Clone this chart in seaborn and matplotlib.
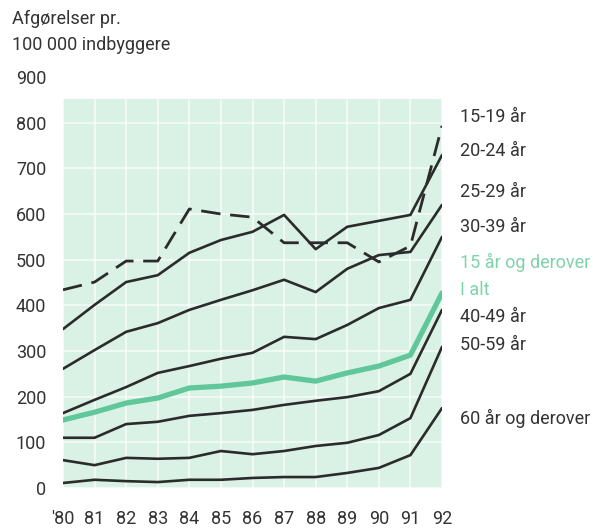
"""
Afgørelser pr. 100 000 indbyggere, by age group, 1980-1992
"""
import matplotlib.pyplot as plt
import seaborn as sns

years = list(range(80, 93))
year_labels = ["'80", "81", "82", "83", "84", "85", "86", "87", "88", "89", "90", "91", "92"]

age_15_19 = [434, 451, 497, 497, 611, 600, 593, 537, 537, 537, 495, 530, 793]
age_20_24 = [348, 401, 451, 466, 515, 543, 561, 598, 523, 572, 585, 598, 729]
age_25_29 = [261, 302, 342, 361, 390, 412, 433, 456, 429, 480, 510, 517, 620]
age_30_39 = [164, 193, 221, 252, 267, 283, 296, 331, 326, 357, 394, 412, 550]
total_15_plus = [149, 166, 186, 197, 219, 223, 230, 243, 234, 252, 267, 291, 427]
age_40_49 = [110, 110, 140, 145, 158, 164, 171, 182, 191, 199, 212, 250, 390]
age_50_59 = [61, 50, 66, 64, 66, 81, 74, 81, 92, 99, 116, 153, 309]
age_60_plus = [11, 18, 15, 13, 18, 18, 22, 24, 24, 33, 44, 72, 175]

# label text and where it sits (value on y axis) at the right side
right_labels = ["15-19 år", "20-24 år", "25-29 år", "30-39 år", "15 år og derover",
                "I alt", "40-49 år", "50-59 år", "60 år og derover"]
right_label_y = [812, 738, 648, 572, 493, 434, 374, 313, 153]

DARK = "#2b2b2b"
GREEN = "#5fc79a"
GREEN_TEXT = "#7fd3aa"
MINT = "#daf2e5"
TEXT = "#333333"

sns.set_theme(style="white")
plt.rcParams["font.family"] = ["Roboto", "DejaVu Sans"]

fig = plt.figure(figsize=(5.93, 5.28), dpi=100)
ax = fig.add_axes([63 / 593, 1 - 488 / 528, (442 - 63) / 593, (488 - 77) / 528])

# mint background with white grid, only up to just below 900
ax.axhspan(0, 852, color=MINT, zorder=1, lw=0)
ax.set_axisbelow("line")
ax.grid(True, color="white", lw=1.1, alpha=0.8)

for vals in [age_20_24, age_25_29, age_30_39, age_40_49, age_50_59, age_60_plus]:
    sns.lineplot(x=years, y=vals, ax=ax, color=DARK, lw=1.9, zorder=3)

sns.lineplot(x=years, y=total_15_plus, ax=ax, color=GREEN, lw=3.8, zorder=3)
sns.lineplot(x=years, y=age_15_19, ax=ax, color=DARK, lw=2.0, zorder=3)
ax.lines[-1].set_dashes((7, 3.5))

ax.set_xlim(80, 92)
ax.set_ylim(0, 900)
ax.set_xticks(years)
ax.set_xticklabels(year_labels)
ax.set_yticks(range(0, 1000, 100))
ax.tick_params(axis="x", length=0, pad=16, labelsize=13, labelcolor=TEXT)
ax.tick_params(axis="y", length=0, pad=12, labelsize=13, labelcolor=TEXT)
for s in ax.spines.values():
    s.set_visible(False)

for txt, yv in zip(right_labels, right_label_y):
    col = GREEN_TEXT if txt in ("15 år og derover", "I alt") else TEXT
    ax.text(92.57, yv, txt, ha="left", va="center", fontsize=13, color=col, clip_on=False)

fig.text(12 / 593, 1 - 19 / 528, "Afgørelser pr.", ha="left", va="center", fontsize=13, color=TEXT)
fig.text(12 / 593, 1 - 45 / 528, "100 000 indbyggere", ha="left", va="center", fontsize=13, color=TEXT)

plt.savefig("out.png", dpi=100)
